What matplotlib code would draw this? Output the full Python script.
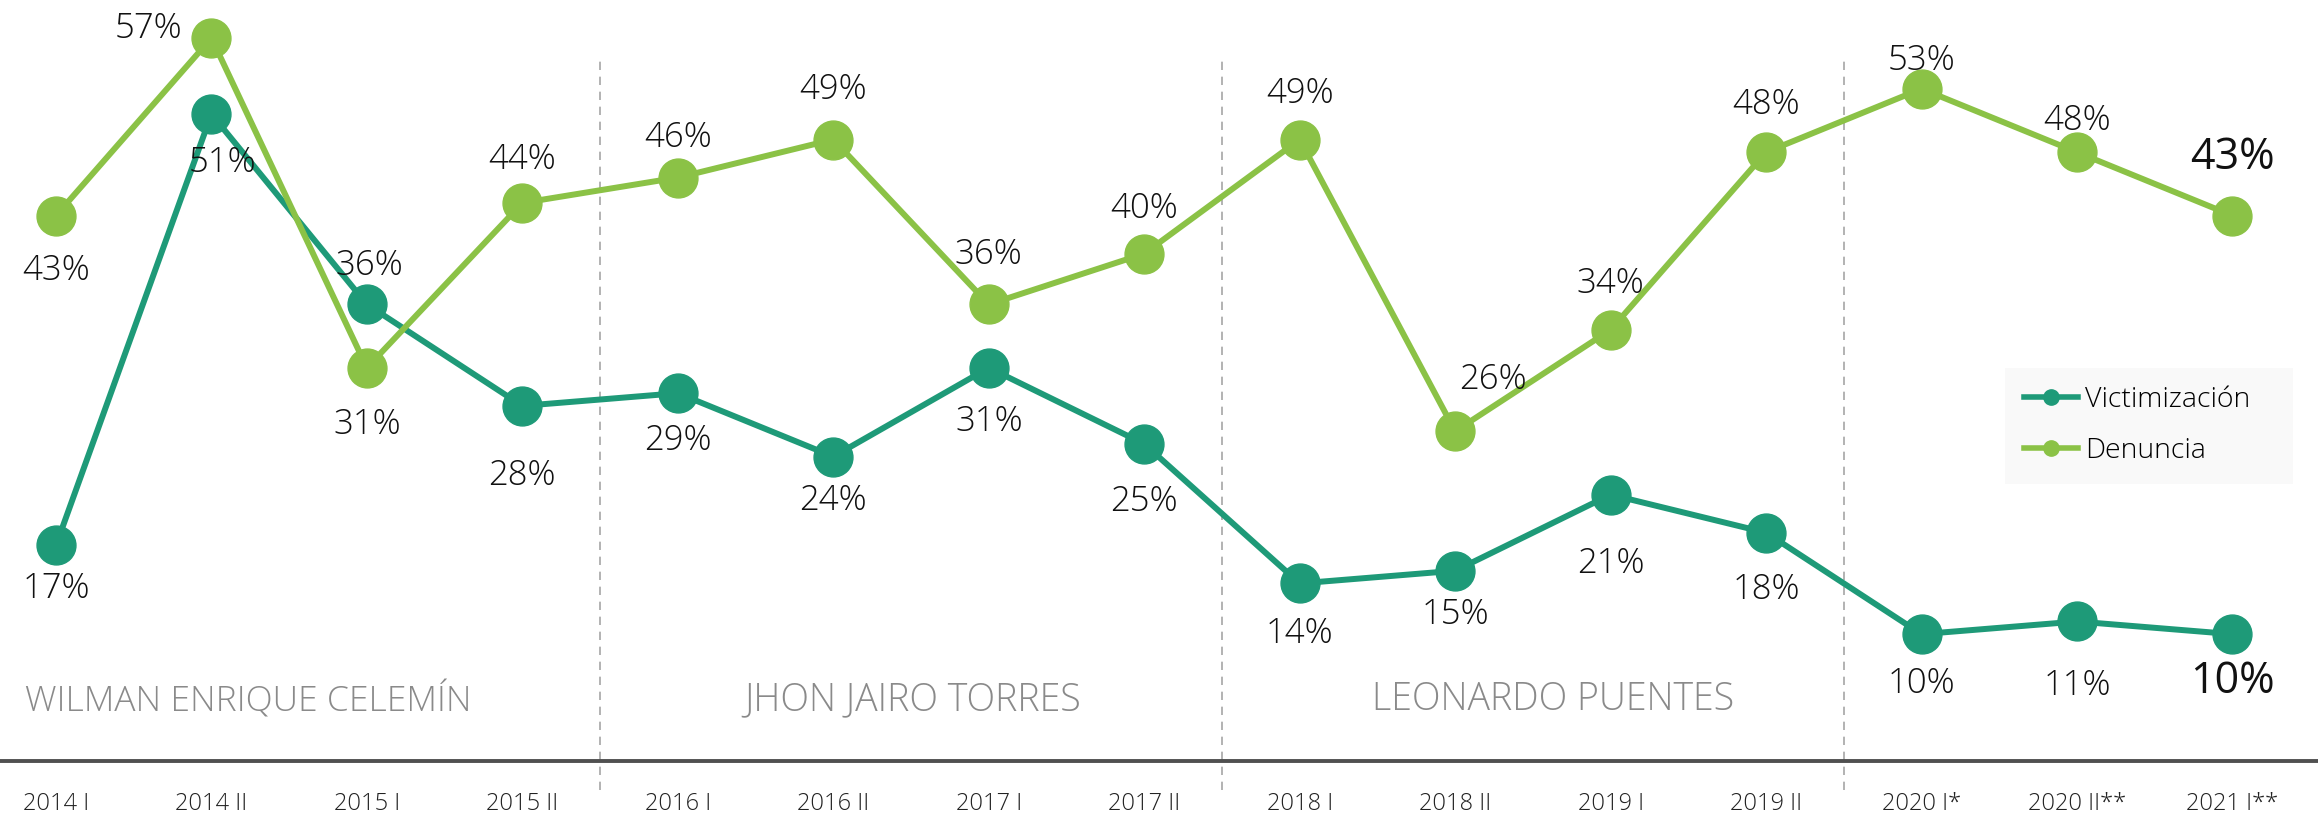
import matplotlib.pyplot as plt
import numpy as np

periodos = ['2014 I', '2014 II', '2015 I', '2015 II', '2016 I', '2016 II', '2017 I', '2017 II',
            '2018 I', '2018 II', '2019 I', '2019 II', '2020 I*', '2020 II**', '2021 I**']
victimizacion = [17, 51, 36, 28, 29, 24, 31, 25, 14, 15, 21, 18, 10, 11, 10]
denuncia = [43, 57, 31, 44, 46, 49, 36, 40, 49, 26, 34, 48, 53, 48, 43]
alcaldes = ['WILMAN ENRIQUE CELEMÍN', 'JHON JAIRO TORRES', 'LEONARDO PUENTES']

# offsets de las etiquetas (puntos)
off_v = [(0, -31), (8, -35), (2, 28), (0, -50), (0, -34), (0, -32), (0, -39), (0, -42),
         (0, -36), (0, -32), (0, -50), (0, -41), (0, -36), (0, -46), (0, -34)]
off_d = [(0, -40), (-45, 7), (0, -41), (0, 31), (0, 29), (0, 36), (0, 36), (0, 32),
         (0, 33), (27, 37), (0, 33), (0, 34), (0, 20), (0, 23), (0, 42)]

c_vic = '#1e9a78'
c_den = '#8bc246'
fuente = ['Open Sans', 'DejaVu Sans']
plt.rcParams['font.family'] = fuente

fig = plt.figure(figsize=(23.18, 8.21), dpi=100)
ax = fig.add_axes([0, 0.0731, 1, 0.9269])
x = np.arange(len(periodos))

ax.plot(x, victimizacion, color=c_vic, lw=4.3, marker='o', ms=28, label='Victimización', zorder=3)
ax.plot(x, denuncia, color=c_den, lw=4.3, marker='o', ms=28, label='Denuncia', zorder=3)

n = len(periodos)
for i in range(n):
    ultimo = i == n - 1
    for vals, offs in ((victimizacion, off_v), (denuncia, off_d)):
        ax.annotate(f'{vals[i]}%', (x[i], vals[i]), xytext=offs[i], textcoords='offset points',
                    ha='center', va='center', fontsize=31 if ultimo else 25,
                    fontweight='normal' if ultimo else 'light', color='#111111', zorder=4)

for xv in [3.5, 7.5, 11.5]:
    ax.plot([xv, xv], [-2.3, 55.5], color='#a6a6a6', lw=1.2, ls=(0, (5, 4)), clip_on=False, zorder=1)

for nombre, xc, fs in zip(alcaldes, [1.24, 5.51, 9.63], [25.5, 27, 27]):
    ax.text(xc, 4.8, nombre, ha='center', va='center', fontsize=fs, fontweight='light', color='#8a8a8a')

ax.set_xlim(-0.36, 14.55)
ax.set_ylim(0, 60)
ax.set_xticks(x)
ax.set_xticklabels(periodos, fontsize=17, fontweight='light', color='#222222')
ax.tick_params(axis='x', length=0, pad=22)
ax.set_yticks([])
for s in ['top', 'left', 'right']:
    ax.spines[s].set_visible(False)
ax.spines['bottom'].set_color('#505050')
ax.spines['bottom'].set_linewidth(2.8)

h = [plt.Line2D([], [], color=c_vic, lw=4, marker='o', ms=11),
     plt.Line2D([], [], color=c_den, lw=4, marker='o', ms=11)]
leg = fig.legend(h, ['Victimización', 'Denuncia'], loc='upper left',
                 bbox_to_anchor=(0.865, 0.412, 0.124, 0.14), mode='expand',
                 frameon=True, facecolor='#f8f8f8', edgecolor='none', fancybox=False,
                 prop={'weight': 'light', 'size': 20.5}, handlelength=1.9, labelspacing=0.8,
                 borderpad=0.65, handletextpad=0.25, borderaxespad=0)

fig.savefig('out.png', dpi=100)
